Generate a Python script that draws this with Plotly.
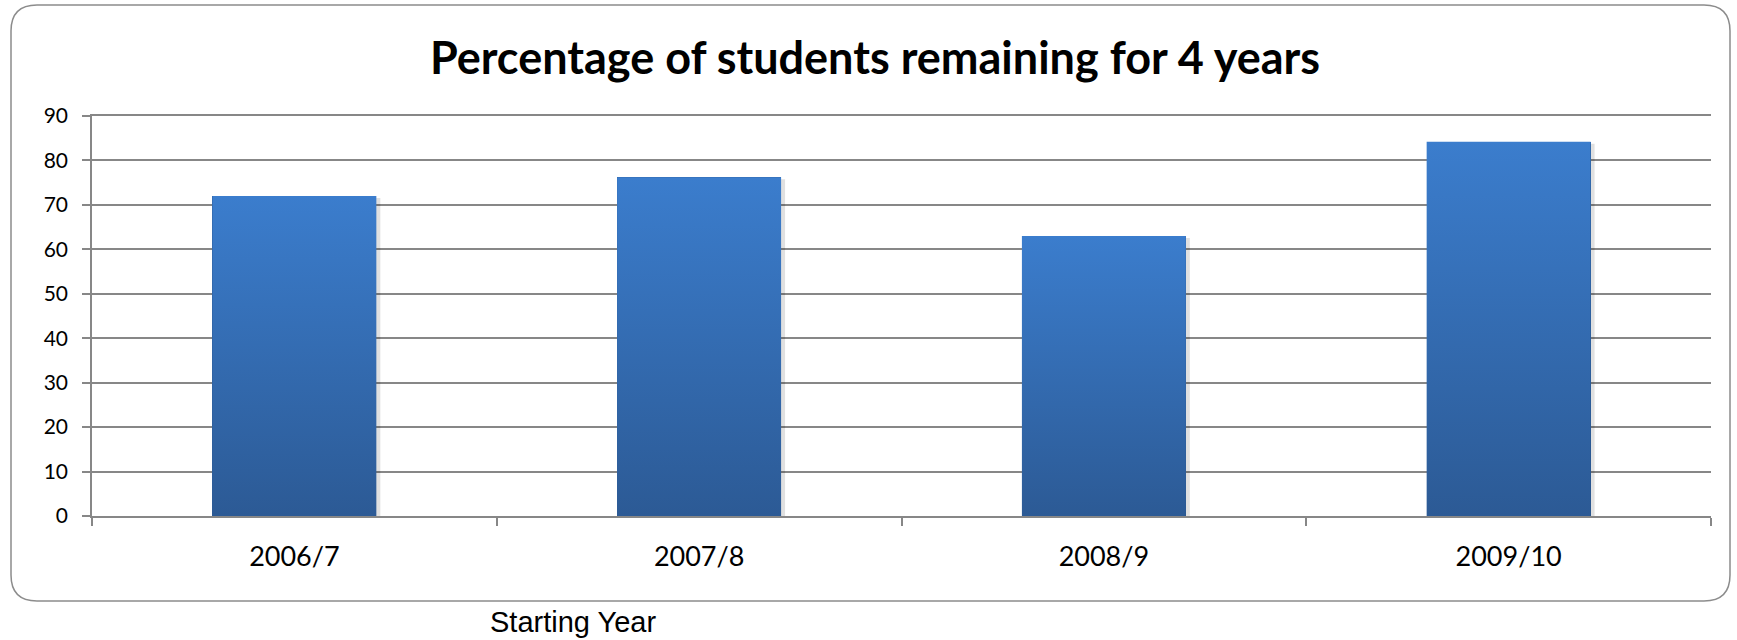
import plotly.graph_objects as go

# Data
years = ["2006/7", "2007/8", "2008/9", "2009/10"]
pct_remaining = [72.0, 76.2, 63.0, 84.2]
y_tick_values = list(range(0, 91, 10))

# Canvas and plot-area geometry (pixels)
W, H = 1737, 640
L, R, T, B = 92, 26, 116, 124
PW, PH = W - L - R, H - T - B
BAR_W = 0.405
SHADOW_DX = 4 / (PW / 4)       # a few pixels, in category units
SHADOW_DY = 90 * 2 / PH        # a couple of pixels, in value units

GRID = "#878787"
DARK = "#2c5a95"
LIGHT = "#3b7dcd"


def fx(px):
    return (px - L) / PW


def fy(py):
    return (H - B - py) / PH


fig = go.Figure()

# Soft drop shadow behind each bar
for i, v in enumerate(pct_remaining):
    x0, x1 = i - BAR_W / 2 + SHADOW_DX, i + BAR_W / 2 + SHADOW_DX
    fig.add_trace(go.Scatter(
        x=[x0, x1, x1, x0, x0], y=[0, 0, v - SHADOW_DY, v - SHADOW_DY, 0],
        xaxis="x2", mode="lines", line=dict(width=0),
        fill="toself", fillcolor="rgba(0,0,0,0.12)",
        showlegend=False, hoverinfo="skip",
    ))

# Base bars on the category axis
fig.add_trace(go.Bar(
    x=years, y=pct_remaining, width=BAR_W,
    marker=dict(color=DARK, line=dict(width=0)),
    showlegend=False, hoverinfo="x+y",
))

# Vertical gradient over each bar, drawn on a matching numeric axis
for i, v in enumerate(pct_remaining):
    x0, x1 = i - BAR_W / 2, i + BAR_W / 2
    fig.add_trace(go.Scatter(
        x=[x0, x1, x1, x0, x0], y=[0, 0, v, v, 0],
        xaxis="x2", mode="lines", line=dict(width=0, color=LIGHT),
        fill="toself",
        fillgradient=dict(type="vertical",
                          colorscale=[[0, DARK], [1, LIGHT]]),
        showlegend=False, hoverinfo="skip",
    ))

# Rounded chart frame
x0, x1, y0, y1, r = 11, 1730, 5, 601, 26
path = (
    f"M {fx(x0 + r)} {fy(y0)} L {fx(x1 - r)} {fy(y0)} "
    f"Q {fx(x1)} {fy(y0)} {fx(x1)} {fy(y0 + r)} "
    f"L {fx(x1)} {fy(y1 - r)} "
    f"Q {fx(x1)} {fy(y1)} {fx(x1 - r)} {fy(y1)} "
    f"L {fx(x0 + r)} {fy(y1)} "
    f"Q {fx(x0)} {fy(y1)} {fx(x0)} {fy(y1 - r)} "
    f"L {fx(x0)} {fy(y0 + r)} "
    f"Q {fx(x0)} {fy(y0)} {fx(x0 + r)} {fy(y0)} Z"
)

fig.update_layout(
    width=W, height=H,
    margin=dict(l=L, r=R, t=T, b=B, pad=0),
    paper_bgcolor="white", plot_bgcolor="white",
    font=dict(family="Lato, Arial, sans-serif", color="black"),
    title=dict(
        text="<b>Percentage of students remaining for 4 years</b>",
        font=dict(size=45, family="Lato, Arial, sans-serif", color="black"),
        x=875 / W, xref="container", xanchor="center",
        y=1 - 58 / H, yref="container", yanchor="middle",
    ),
    bargap=0,
    xaxis=dict(
        type="category", range=[-0.5, 3.5],
        showgrid=False, showline=True, mirror=True,
        linecolor=GRID, linewidth=1.5,
        ticks="outside", tickson="boundaries", ticklen=8,
        tickcolor=GRID, tickwidth=1.5,
        tickfont=dict(size=27), ticklabelstandoff=16,
        zeroline=False,
    ),
    xaxis2=dict(
        overlaying="x", anchor="y", range=[-0.5, 3.5],
        visible=False, showgrid=False, zeroline=False,
    ),
    yaxis=dict(
        range=[0, 90], tickvals=y_tick_values,
        showgrid=True, gridcolor=GRID, gridwidth=1.5,
        showline=True, linecolor=GRID, linewidth=1.5,
        ticks="outside", ticklen=8, tickcolor=GRID, tickwidth=1.5,
        tickfont=dict(size=21), ticklabelstandoff=10,
        zeroline=False,
    ),
    shapes=[dict(type="path", path=path, xref="paper", yref="paper",
                 line=dict(color="#8c8c8c", width=1.5), layer="below")],
    annotations=[dict(
        text="Starting Year", xref="paper", yref="paper",
        x=fx(573), y=fy(622), xanchor="center", yanchor="middle",
        showarrow=False,
        font=dict(family="Liberation Sans, Arial, sans-serif", size=29,
                  color="black"),
    )],
)

fig.write_html("out.html")
